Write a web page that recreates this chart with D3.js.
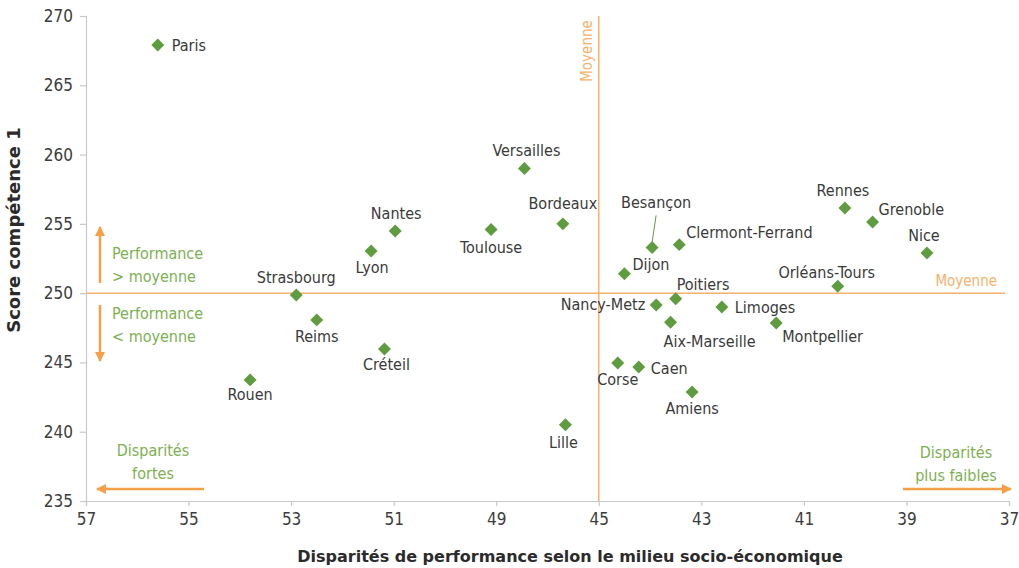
<!DOCTYPE html>
<html>
<head>
<meta charset="utf-8">
<script src="https://cdn.jsdelivr.net/npm/d3@7"></script>
<style>
  body { margin: 0; background: #fff; }
  svg { display: block; }
</style>
</head>
<body>
<div id="chart"></div>
<script>
// academies: disparity (x) vs score (y)
const cities = ["Paris", "Versailles", "Bordeaux", "Toulouse", "Besançon", "Clermont-Ferrand", "Dijon",
  "Poitiers", "Nancy-Metz", "Limoges", "Aix-Marseille", "Montpellier", "Corse", "Caen", "Amiens",
  "Lille", "Rennes", "Grenoble", "Nice", "Orléans-Tours", "Strasbourg", "Reims", "Créteil", "Rouen",
  "Lyon", "Nantes"];
const disparity = [55.6, 47.9, 46.4, 49.1, 43.96, 43.43, 44.5, 43.5, 43.88, 42.6, 43.6, 41.54, 44.63,
  44.22, 43.18, 46.3, 40.2, 39.66, 38.6, 40.34, 52.9, 52.5, 51.18, 53.8, 51.44, 50.97];
const score = [267.9, 259.0, 255.0, 254.6, 253.3, 253.5, 251.4, 249.6, 249.15, 249.0, 247.9, 247.85,
  244.96, 244.67, 242.87, 240.5, 256.15, 255.14, 252.9, 250.5, 249.87, 248.07, 245.97, 243.74, 253.04, 254.49];

// tick labels as printed on the source (47 is skipped on the original axis)
const xTicks = [57, 55, 53, 51, 49, 45, 43, 41, 39, 37];
const yTicks = [235, 240, 245, 250, 255, 260, 265, 270];
const meanX = 45;
const meanY = 250;

// label placement: [anchor, dx, dy]
const labelPlace = {
  "Paris": ["start", 14, 0], "Versailles": ["middle", 2, -18], "Bordeaux": ["middle", 0, -20],
  "Toulouse": ["middle", 0, 18], "Besançon": ["middle", 4, -45], "Clermont-Ferrand": ["start", 7, -12],
  "Dijon": ["start", 8, -9], "Poitiers": ["start", 1, -14], "Nancy-Metz": ["end", -11, -1],
  "Limoges": ["start", 13, 0], "Aix-Marseille": ["start", -7, 19], "Montpellier": ["start", 6, 13],
  "Corse": ["middle", 0, 16], "Caen": ["start", 12, 1], "Amiens": ["middle", 0, 16],
  "Lille": ["middle", -2, 18], "Rennes": ["middle", -2, -18], "Grenoble": ["start", 6, -13],
  "Nice": ["middle", -3, -18], "Orléans-Tours": ["middle", -11, -14], "Strasbourg": ["middle", 0, -18],
  "Reims": ["middle", 0, 17], "Créteil": ["middle", 2, 15], "Rouen": ["middle", 0, 15],
  "Lyon": ["middle", 1, 16], "Nantes": ["middle", 1, -18]
};

const width = 1019, height = 568;
const plotLeft = 86, plotRight = 1009, plotTop = 16, plotBottom = 501;
const orange = "#f5a048", lineOrange = "#f8b16c", green = "#5e9c3f", textGreen = "#7db052";
const narrow = "'Liberation Sans Narrow', 'DejaVu Sans Condensed', sans-serif";
const tickFont = "'DejaVu Sans Condensed', 'Liberation Sans Narrow', sans-serif";

// polylinear so the printed 49 -> 45 gap keeps its even spacing
const xScale = d3.scaleLinear()
  .domain([57, 49, 45, 37])
  .range([plotLeft, plotLeft + (plotRight - plotLeft) * 4 / 9, plotLeft + (plotRight - plotLeft) * 5 / 9, plotRight]);
const yScale = d3.scaleLinear().domain([235, 270]).range([plotBottom, plotTop]);

const svg = d3.select("#chart").append("svg").attr("width", width).attr("height", height);

// axes
const xAxis = svg.append("g").attr("transform", `translate(0,${plotBottom})`)
  .call(d3.axisBottom(xScale).tickValues(xTicks).tickSize(5).tickPadding(7).tickFormat(d3.format("d")));
const yAxis = svg.append("g").attr("transform", `translate(${plotLeft},0)`)
  .call(d3.axisLeft(yScale).tickValues(yTicks).tickSize(6).tickPadding(7).tickFormat(d3.format("d")));
[xAxis, yAxis].forEach(a => {
  a.select(".domain").attr("stroke", "#c9c9c9").attr("stroke-width", 1.2);
  a.selectAll(".tick line").attr("stroke", "#c9c9c9").attr("stroke-width", 1.2);
  a.selectAll(".tick text").attr("fill", "#3c3c3c").attr("font-size", "17px").attr("font-family", tickFont);
});

// mean lines
svg.append("line")
  .attr("x1", plotLeft).attr("x2", plotRight - 4)
  .attr("y1", yScale(meanY)).attr("y2", yScale(meanY))
  .attr("stroke", lineOrange).attr("stroke-width", 1.5);
svg.append("line")
  .attr("x1", xScale(meanX)).attr("x2", xScale(meanX))
  .attr("y1", plotTop).attr("y2", plotBottom)
  .attr("stroke", lineOrange).attr("stroke-width", 1.5);
svg.append("text")
  .attr("x", plotRight - 12).attr("y", yScale(meanY) - 12)
  .attr("dy", "0.35em").attr("text-anchor", "end")
  .attr("fill", lineOrange).attr("font-size", "15px").attr("font-family", narrow)
  .text("Moyenne");
svg.append("text")
  .attr("transform", `translate(${xScale(meanX) - 7},${plotTop + 35}) rotate(-90)`)
  .attr("text-anchor", "middle")
  .attr("fill", lineOrange).attr("font-size", "15px").attr("font-family", narrow)
  .text("Moyenne");

// arrows
const defs = svg.append("defs");
defs.append("marker").attr("id", "head")
  .attr("viewBox", "0 0 10 10").attr("refX", 9).attr("refY", 5)
  .attr("markerWidth", 4).attr("markerHeight", 4).attr("orient", "auto")
  .append("path").attr("d", "M0,0 L10,5 L0,10 z").attr("fill", orange);

function arrow(x1, y1, x2, y2) {
  svg.append("line")
    .attr("x1", x1).attr("y1", y1).attr("x2", x2).attr("y2", y2)
    .attr("stroke", orange).attr("stroke-width", 2.5)
    .attr("marker-end", "url(#head)");
}
arrow(100, 283, 100, 227);
arrow(100, 305, 100, 361);
arrow(204, 489, 97, 489);
arrow(903, 489, 1011, 489);

function note(x, y, lines, anchor) {
  const t = svg.append("text")
    .attr("x", x).attr("y", y).attr("text-anchor", anchor)
    .attr("fill", textGreen).attr("font-size", "16px").attr("font-family", narrow);
  lines.forEach((l, i) => t.append("tspan").attr("x", x).attr("dy", i === 0 ? 0 : 23).text(l));
}
note(112, 259, ["Performance", "> moyenne"], "start");
note(112, 319, ["Performance", "< moyenne"], "start");
note(153, 456, ["Disparités", "fortes"], "middle");
note(956, 458, ["Disparités", "plus faibles"], "middle");

// points
const points = cities.map((c, i) => ({ name: c, x: disparity[i], y: score[i] }));

// Besançon leader line
const bes = points.find(d => d.name === "Besançon");
svg.append("line")
  .attr("x1", xScale(bes.x) + 4).attr("y1", yScale(bes.y) - 32)
  .attr("x2", xScale(bes.x)).attr("y2", yScale(bes.y) - 5)
  .attr("stroke", green).attr("stroke-width", 1);

svg.selectAll(".pt")
  .data(points)
  .join("path")
  .attr("class", "pt")
  .attr("d", d3.symbol(d3.symbolSquare, 84))
  .attr("transform", d => `translate(${xScale(d.x)},${yScale(d.y)}) rotate(45)`)
  .attr("fill", green);

svg.selectAll(".lbl")
  .data(points)
  .join("text")
  .attr("class", "lbl")
  .attr("x", d => xScale(d.x) + labelPlace[d.name][1])
  .attr("y", d => yScale(d.y) + labelPlace[d.name][2])
  .attr("dy", "0.35em")
  .attr("text-anchor", d => labelPlace[d.name][0])
  .attr("fill", "#3a3a3a").attr("font-size", "16px").attr("font-family", narrow)
  .text(d => d.name);

// axis titles
svg.append("text")
  .attr("x", 570).attr("y", 556).attr("dy", "0.35em")
  .attr("text-anchor", "middle").attr("font-weight", "bold")
  .attr("fill", "#2b2b2b").attr("font-size", "16px").attr("font-family", "'DejaVu Sans', sans-serif")
  .text("Disparités de performance selon le milieu socio-économique");
svg.append("text")
  .attr("transform", "translate(14,230) rotate(-90)").attr("dy", "0.35em")
  .attr("text-anchor", "middle").attr("font-weight", "bold")
  .attr("fill", "#2b2b2b").attr("font-size", "18px").attr("font-family", "'DejaVu Sans', sans-serif")
  .text("Score compétence 1");
</script>
</body>
</html>
